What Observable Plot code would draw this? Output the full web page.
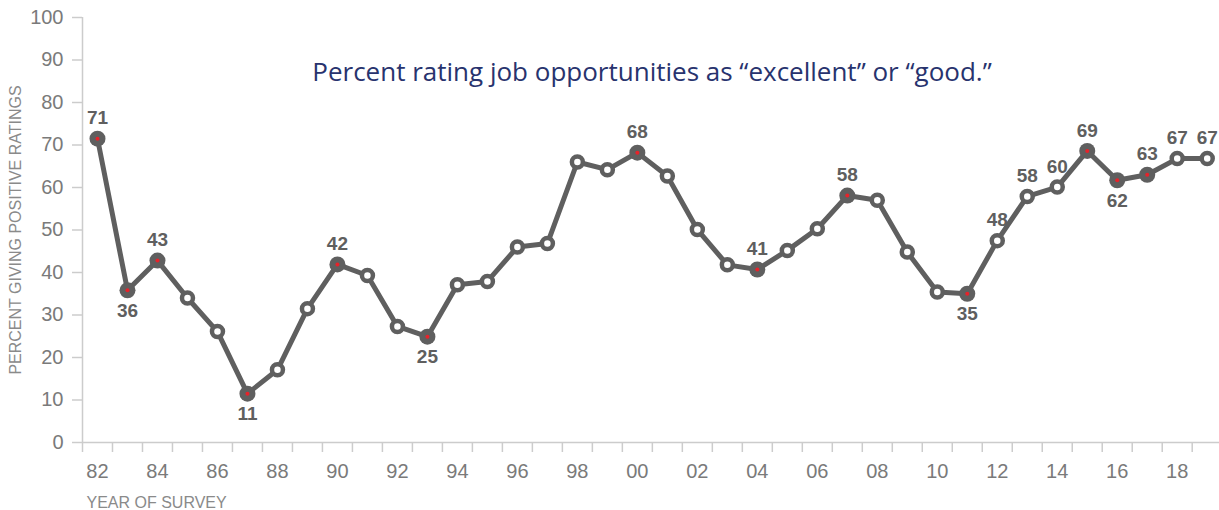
<!DOCTYPE html>
<html>
<head>
<meta charset="utf-8">
<script src="https://cdn.jsdelivr.net/npm/d3@7"></script>
<script src="https://cdn.jsdelivr.net/npm/@observablehq/plot@0.6"></script>
<style>
  html, body { margin: 0; padding: 0; background: #fff; }
  #chart svg { display: block; }
</style>
</head>
<body>
<div id="chart"></div>
<script>
// ---- data ----
const years = [1982,1983,1984,1985,1986,1987,1988,1989,1990,1991,1992,1993,1994,1995,1996,1997,1998,1999,2000,2001,2002,2003,2004,2005,2006,2007,2008,2009,2010,2011,2012,2013,2014,2015,2016,2017,2018,2019];
const values = [71.5,35.8,42.8,34.0,26.1,11.5,17.1,31.5,41.9,39.3,27.3,24.9,37.1,37.9,46.0,46.8,66.0,64.2,68.2,62.7,50.1,41.8,40.7,45.2,50.3,58.1,57.0,44.8,35.4,35.0,47.5,57.9,60.1,68.6,61.7,63.0,66.8,66.8];
const markedYears = [1982,1983,1984,1987,1990,1993,2000,2004,2007,2011,2015,2016,2017];
const labelsAboveYears = [1982,1984,1990,2000,2004,2007,2012,2013,2014,2015,2017,2018,2019];
const labelsAboveText  = ["71","43","42","68","41","58","48","58","60","69","63","67","67"];
const labelsBelowYears = [1983,1987,1993,2011,2016];
const labelsBelowText  = ["36","11","25","35","62"];
const yTicks = [0,10,20,30,40,50,60,70,80,90,100];
const xLabelYears = [1982,1984,1986,1988,1990,1992,1994,1996,1998,2000,2002,2004,2006,2008,2010,2012,2014,2016,2018];
const titleText = "Percent rating job opportunities as \u201cexcellent\u201d or \u201cgood.\u201d";
const yLabel = "PERCENT GIVING POSITIVE RATINGS";
const xLabel = "YEAR OF SURVEY";

// ---- derived tables ----
const series = years.map((year, i) => ({year, value: values[i]}));
const valueOf = y => values[years.indexOf(y)];
const marked = series.filter(d => markedYears.includes(d.year));
const unmarked = series.filter(d => !markedYears.includes(d.year));
const above = labelsAboveYears.map((year, i) => ({year, value: valueOf(year), text: labelsAboveText[i]}));
const below = labelsBelowYears.map((year, i) => ({year, value: valueOf(year), text: labelsBelowText[i]}));
const edges = years.map(y => y - 0.5);

const lineColor = "#5f5f5f";
const axisColor = "#cccccc";
const tickText = "#7a7a7a";

const chart = Plot.plot({
  width: 1219,
  height: 510,
  marginTop: 17,
  marginBottom: 68,
  marginLeft: 82,
  marginRight: 0,
  style: {fontFamily: "'Liberation Sans', Arial, sans-serif", background: "#fff"},
  x: {type: "linear", domain: [1981.5, 2019.41]},
  y: {domain: [0, 100]},
  marks: [
    Plot.ruleY([0], {stroke: axisColor, strokeWidth: 1.5}),
    Plot.ruleX([1981.5], {y1: 0, y2: 100, stroke: axisColor, strokeWidth: 1.5}),
    Plot.axisY(yTicks, {tickSize: 10, tickPadding: 9, fontSize: 20, stroke: axisColor, strokeWidth: 1.5, fill: tickText, label: null}),
    Plot.axisX(edges, {tickSize: 10, tickFormat: () => "", stroke: axisColor, strokeWidth: 1.5, label: null}),
    Plot.axisX(xLabelYears, {tickSize: 0, tickPadding: 21, fontSize: 20, fill: tickText, tickFormat: d => String(d % 100).padStart(2, "0"), label: null}),
    Plot.line(series, {x: "year", y: "value", stroke: lineColor, strokeWidth: 5, strokeLinejoin: "round"}),
    Plot.dot(unmarked, {x: "year", y: "value", r: 5.5, fill: "#fff", stroke: lineColor, strokeWidth: 4.5}),
    Plot.dot(marked, {x: "year", y: "value", r: 8, fill: lineColor, stroke: "none"}),
    Plot.dot(marked, {x: "year", y: "value", r: 2, fill: "#e8222a", stroke: "none"}),
    Plot.text(above, {x: "year", y: "value", text: "text", dy: -20.5, fontSize: 19, fontWeight: "bold", fill: lineColor}),
    Plot.text(below, {x: "year", y: "value", text: "text", dy: 20.5, fontSize: 19, fontWeight: "bold", fill: lineColor}),
    Plot.text([titleText], {frameAnchor: "top", lineAnchor: "middle", dx: 1, dy: 55, fontSize: 26, fontFamily: "'Open Sans', sans-serif", fill: "#28336e"}),
    Plot.text([yLabel], {frameAnchor: "left", textAnchor: "middle", lineAnchor: "middle", rotate: -90, dx: -67, fontSize: 16, fill: "#8a8a8a"}),
    Plot.text([xLabel], {frameAnchor: "bottom-left", textAnchor: "start", lineAnchor: "middle", dx: 4, dy: 60, fontSize: 16, fill: "#8a8a8a"})
  ]
});
document.getElementById("chart").appendChild(chart);
</script>
</body>
</html>
